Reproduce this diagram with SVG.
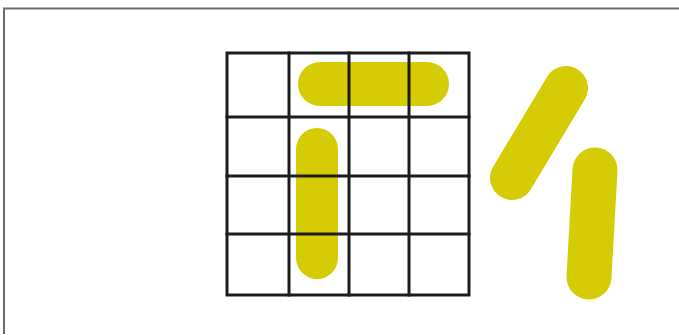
<svg xmlns="http://www.w3.org/2000/svg" width="679" height="335" viewBox="0 0 679 335">
<style>
.frame{stroke:#6a6e66;stroke-width:2;fill:none}
.pill{stroke:#d6cc06;stroke-linecap:round;fill:none}
.grid{stroke:#1c1c1c;stroke-width:3;fill:none;stroke-linecap:square}
</style>
<rect width="679" height="335" fill="#ffffff"/>
<g id="frame">
<path class="frame" d="M4 334 V8.5 H679"/>
</g>
<g id="pills">
<line id="pill-h" class="pill" stroke-width="44" x1="320" y1="84" x2="427" y2="84"/>
<line id="pill-v" class="pill" stroke-width="42" x1="317" y1="149" x2="317" y2="258"/>
<line id="pill-diag" class="pill" stroke-width="44" x1="566" y1="88" x2="512" y2="178"/>
<line id="pill-right" class="pill" stroke-width="45" x1="595" y1="170" x2="589" y2="277"/>
</g>
<g id="grid">
<rect class="grid" x="227" y="53" width="242" height="242"/>
<line class="grid" x1="289" y1="53" x2="289" y2="295"/>
<line class="grid" x1="349" y1="53" x2="349" y2="295"/>
<line class="grid" x1="409" y1="53" x2="409" y2="295"/>
<line class="grid" x1="227" y1="117" x2="469" y2="117"/>
<line class="grid" x1="227" y1="176" x2="469" y2="176"/>
<line class="grid" x1="227" y1="234" x2="469" y2="234"/>
</g>
</svg>
